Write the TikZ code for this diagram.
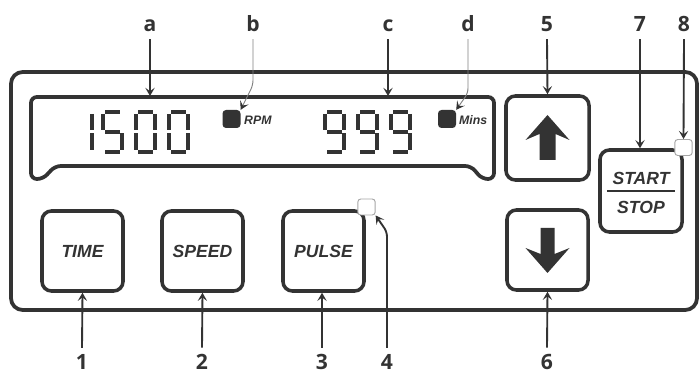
\documentclass[tikz,border=0pt]{standalone}
\usepackage{fontspec}
\usetikzlibrary{arrows.meta, calc}
\newfontfamily\lblfont{Open Sans}
\newfontfamily\keyfont{Liberation Sans}
\definecolor{ink}{HTML}{333333}

% one seven-segment digit: top-left corner x, y and its lit segments
\newcommand{\segdigit}[3]{%
  \begin{scope}[shift={(#1,#2)}]
    \coordinate (a1) at (4,2);     \coordinate (a2) at (19,2);
    \coordinate (b1) at (21,4);    \coordinate (b2) at (21,20.5);
    \coordinate (c1) at (21,23.5); \coordinate (c2) at (21,40);
    \coordinate (d1) at (4,42);    \coordinate (d2) at (19,42);
    \coordinate (e1) at (2,23.5);  \coordinate (e2) at (2,40);
    \coordinate (f1) at (2,4);     \coordinate (f2) at (2,20.5);
    \coordinate (g1) at (4,22);    \coordinate (g2) at (19,22);
    \foreach \s in {#3} {\draw[segment] (\s1) -- (\s2);}
  \end{scope}}

\begin{document}
\begin{tikzpicture}[x=0.03cm, y=-0.03cm,
  panel/.style={draw=ink, line width=3.2pt},
  key/.style={draw=ink, line width=3pt, rounded corners=8pt, minimum width=2.43cm, minimum height=2.4cm,
    text=ink, font=\keyfont\bfseries\itshape\fontsize{15}{15}\selectfont},
  led/.style={draw=gray!70, fill=white, line width=0.8pt, rounded corners=2.5pt, minimum width=0.52cm, minimum height=0.48cm, inner sep=0pt},
  lamp/.style={fill=ink, rounded corners=3pt, minimum size=0.54cm, inner sep=0pt},
  unit/.style={font=\keyfont\bfseries\itshape\fontsize{10.5}{10.5}\selectfont, text=ink, inner sep=0pt, anchor=west},
  keytext/.style={font=\keyfont\bfseries\itshape\fontsize{15}{15}\selectfont, text=ink, inner sep=0pt},
  tag/.style={font=\lblfont\bfseries\fontsize{18}{18}\selectfont, text=ink, inner sep=0pt, text depth=0pt, anchor=base, outer sep=6pt},
  pointer/.style={draw=ink, line width=1.6pt, -{Stealth[length=7pt, width=8pt, inset=3pt]}},
  thin pointer/.style={draw=gray, line width=0.8pt, -{Stealth[length=7pt, width=8pt, inset=3pt, color=ink]}},
  segment/.style={draw=ink, line width=3.4pt}]
	\useasboundingbox (0,0) rectangle (699,375);
	% housing and display window
	\draw[panel, rounded corners=10pt] (11,72) rectangle (697,310);
	\draw[panel, rounded corners=5pt] (31,140) -- (31,97) -- (494,97) -- (494,179) -- (482,179) -- (471,166)
		-- (55,166) -- (43,179) -- (31,179) -- cycle;
	% readings
	\segdigit{71}{110}{b,c}
	\segdigit{101}{110}{a,f,g,c,d}
	\segdigit{134}{110}{a,b,c,d,e,f}
	\segdigit{167}{110}{a,b,c,d,e,f}
	\segdigit{323}{110}{a,b,c,d,f,g}
	\segdigit{356}{110}{a,b,c,d,f,g}
	\segdigit{389}{110}{a,b,c,d,f,g}
	\node[lamp] (rpmlamp) at (231.5,119) {};
	\node[unit] (rpm) at (244,120) {RPM};
	\node[lamp] (minslamp) at (447,119) {};
	\node[unit] (mins) at (459,120) {Mins};
	\coordinate (dispa) at (150,96);
	\coordinate (dispc) at (388,96);
	% keys
	\node[key] (time) at (82.5,251) {TIME};
	\node[key] (speed) at (202.5,251) {SPEED};
	\node[key] (pulse) at (323.5,251) {PULSE};
	\node[key, minimum width=2.49cm, minimum height=2.52cm] (up) at (547.5,138) {};
	\node[key] (down) at (547.5,250) {};
	\node[key, minimum width=2.46cm, minimum height=2.46cm] (startstop) at (641,191) {};
	\node[keytext] (start) at (641,178) {START};
	\node[keytext] (stop) at (641,207) {STOP};
	\draw[ink, line width=1.2pt] ($(startstop.west)!0.1!(startstop.east)$) -- ($(startstop.west)!0.9!(startstop.east)$);
	\begin{scope}[shift={(up.center)}]
		\fill[ink] (0,-23) -- (22,2) -- (8,-4) -- (8,22) -- (-8,22) -- (-8,-4) -- (-22,2) -- cycle;
	\end{scope}
	\begin{scope}[shift={(down.center)}]
		\fill[ink] (0,23) -- (22,-2) -- (7,4) -- (7,-22) -- (-7,-22) -- (-7,4) -- (-22,-2) -- cycle;
	\end{scope}
	\node[led] (pulseled) at (366.5,207) {};
	\node[led] (startled) at (683.5,147.5) {};
	% callouts
	\node[tag] (lbla) at (150,32) {a};
	\node[tag] (lblb) at (253,32) {b};
	\node[tag] (lblc) at (388,32) {c};
	\node[tag] (lbld) at (468,32) {d};
	\node[tag] (lbl5) at (547,32) {5};
	\node[tag] (lbl7) at (640,32) {7};
	\node[tag] (lbl8) at (684,32) {8};
	\node[tag] (lbl1) at (82,370) {1};
	\node[tag] (lbl2) at (202,370) {2};
	\node[tag] (lbl3) at (322,370) {3};
	\node[tag] (lbl4) at (387,370) {4};
	\node[tag] (lbl6) at (547,370) {6};
	\draw[pointer] (lbla.south) -- (dispa);
	\draw[thin pointer, rounded corners=4pt] (lblb.south) -- ++(0,46) -- (rpmlamp.north east);
	\draw[pointer] (lblc.south) -- (dispc);
	\draw[thin pointer, rounded corners=4pt] (lbld.south) -- ++(0,54) -- (minslamp.north east);
	\draw[pointer] (lbl5.south) -- (up.north);
	\draw[pointer] (lbl7.south) -- (lbl7.south |- startstop.north);
	\draw[pointer] (lbl8.south) -- (startled.north);
	\draw[pointer] (lbl1.north) -- (time.south);
	\draw[pointer] (lbl2.north) -- (speed.south);
	\draw[pointer] (lbl3.north) -- (lbl3.north |- pulse.south);
	\draw[pointer, rounded corners=4pt] (lbl4.north) -- ++(0,-116) -- (pulseled.south east);
	\draw[pointer] (lbl6.north) -- (down.south);
\end{tikzpicture}
\end{document}
